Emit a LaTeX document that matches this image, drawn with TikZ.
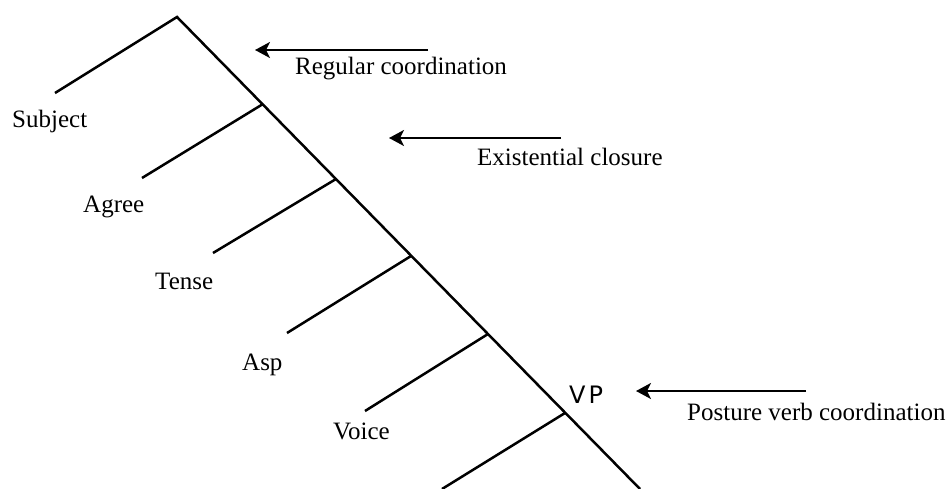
\documentclass[tikz,border=0pt]{standalone}
\usepackage{fontspec}
\setmainfont{Liberation Serif}
\newfontfamily\vpfont{DejaVu Sans}
\usetikzlibrary{arrows.meta}
\begin{document}
\begin{tikzpicture}[x=1pt,y=-1pt,
  treeline/.style={line width=2.5pt},
  pointer/.style={line width=2.2pt,-{Stealth[length=15pt,width=16pt,inset=4pt]}},
  lbl/.style={anchor=base west,inner sep=0pt,font=\fontsize{25}{30}\selectfont},
  vplbl/.style={anchor=base west,inner sep=0pt,font=\vpfont\fontsize{24}{28}\selectfont}]
\useasboundingbox (0,0) rectangle (949,489);
% spine
\coordinate (top) at (177,17);
\coordinate (bot) at (640,489);
\coordinate (j1) at (263,104);
\coordinate (j2) at (336,179);
\coordinate (j3) at (411,256);
\coordinate (j4) at (488,334);
\coordinate (j5) at (565,413);
\coordinate (e0) at (55,93);
\coordinate (e1) at (142,178);
\coordinate (e2) at (213,253);
\coordinate (e3) at (287,333);
\coordinate (e4) at (365,411);
\coordinate (e5) at (442,489);
\draw[treeline] (e0) -- (top) -- (bot);
\draw[treeline] (j1) -- (e1);
\draw[treeline] (j2) -- (e2);
\draw[treeline] (j3) -- (e3);
\draw[treeline] (j4) -- (e4);
\draw[treeline] (j5) -- (e5);
% labels
\node[lbl] (subj) at (12,128) {Subject};
\node[lbl] (agree) at (83,212) {Agree};
\node[lbl] (tense) at (155,289) {Tense};
\node[lbl] (asp) at (242,370) {Asp};
\node[lbl] (voice) at (333,439) {Voice};
\node[vplbl] (vp) at (569,403) {V\kern3pt P};
% arrows
\coordinate (a1s) at (428,50);
\coordinate (a1e) at (255,50);
\coordinate (a2s) at (561,138);
\coordinate (a2e) at (389,138);
\coordinate (a3s) at (806,391);
\coordinate (a3e) at (636,391);
\draw[pointer] (a1s) -- (a1e);
\draw[pointer] (a2s) -- (a2e);
\draw[pointer] (a3s) -- (a3e);
\node[lbl] (regco) at (295,75) {Regular coordination};
\node[lbl] (exist) at (477,166) {Existential closure};
\node[lbl] (post) at (687,420) {Posture verb coordination};
\end{tikzpicture}
\end{document}
